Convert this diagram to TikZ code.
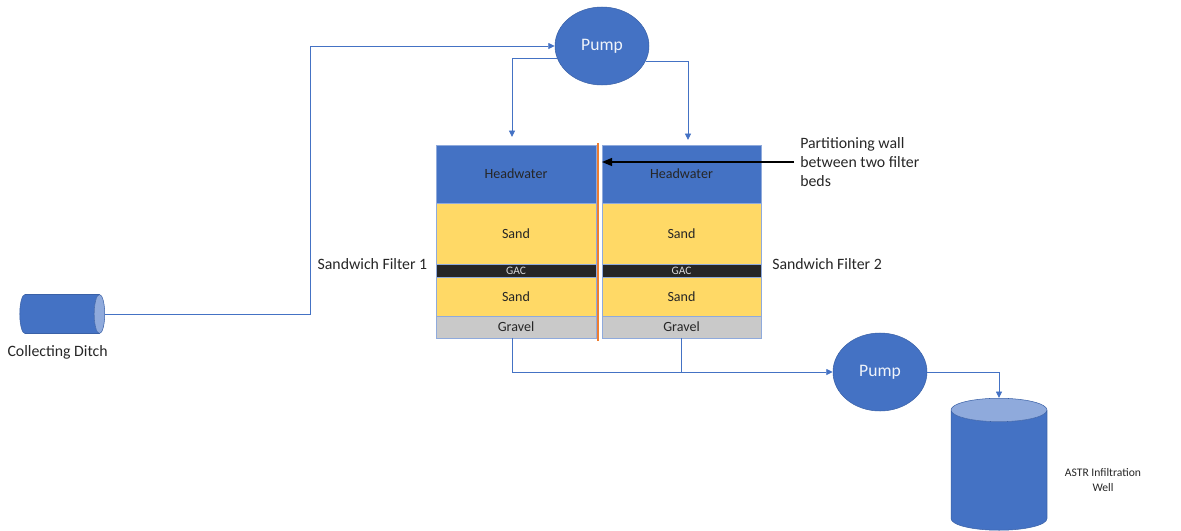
\documentclass[tikz,border=0pt]{standalone}
\usepackage{fontspec}
\setmainfont{Carlito}
\usetikzlibrary{arrows.meta,positioning,shapes.geometric}
\definecolor{water}{HTML}{4472C4}
\definecolor{cap}{HTML}{8FAADC}
\definecolor{sand}{HTML}{FFD966}
\definecolor{carbon}{HTML}{262626}
\definecolor{gravel}{HTML}{C9C9C9}
\definecolor{wallc}{HTML}{ED7D31}
\definecolor{ink}{HTML}{262626}
\tikzset{
  every picture/.style={line width=0.5pt, text=ink, font=\fontsize{9}{11}\selectfont},
  pump/.style={ellipse, fill=water, draw=water!85!black, line width=0.3pt, inner sep=0pt, minimum width=1.88cm, minimum height=1.56cm, text=white!92!water, font=\fontsize{10}{12}\selectfont},
  layer/.style={draw=cap, line width=0.4pt, inner sep=0pt, outer sep=0pt, font=\fontsize{8}{10}\selectfont},
  head/.style={layer, fill=water},
  sandl/.style={layer, fill=sand},
  gac/.style={layer, fill=carbon, text=white!85!black, font=\fontsize{6.5}{7}\selectfont},
  grav/.style={layer, fill=gravel},
  tank/.style={cylinder, draw=water!85!black, line width=0.3pt, cylinder uses custom fill, cylinder body fill=water, cylinder end fill=cap},
  pipe/.style={draw=water, line width=0.5pt, -{Triangle[length=1.3mm, width=1.2mm]}},
  callout/.style={draw=black, line width=0.7pt, -{Triangle[length=2mm, width=1.6mm]}},
  wall/.style={draw=wallc, line width=1.7pt},
  lbl/.style={font=\fontsize{9}{11}\selectfont},
}
\begin{document}
\begin{tikzpicture}[x=0.02cm, y=-0.02cm]
\useasboundingbox (0,0) rectangle (1181,531);
% the two filter beds, top to bottom
\foreach \f/\x/\w in {1/516/3.2cm, 2/681.5/3.18cm} {
  \node[head, minimum width=\w, minimum height=1.16cm] (hw\f) at (\x,174) {Headwater};
  \node[sandl, minimum width=\w, minimum height=1.22cm, below=0pt of hw\f] (sa\f) {Sand};
  \node[gac, minimum width=\w, minimum height=0.26cm, below=0pt of sa\f] (ga\f) {GAC};
  \node[sandl, minimum width=\w, minimum height=0.78cm, below=0pt of ga\f] (sb\f) {Sand};
  \node[grav, minimum width=\w, minimum height=0.44cm, below=0pt of sb\f] (gr\f) {Gravel};
}
\draw[wall] (598,143) -- (598,341);
\node[lbl, left=0.5mm of ga1.north west] (sf1) {Sandwich Filter 1};
\node[lbl, right=1mm of ga2.north east] (sf2) {Sandwich Filter 2};
\node[lbl, align=left, anchor=west] (part) at (794,162) {Partitioning wall\\between two filter\\beds};
\draw[callout] (part.west) -- (part.west -| hw2.west);
% source, pumps and well
\coordinate (ditchpos) at (105,314);
\coordinate (wellpos) at (999,398);
\begin{scope}[x=1cm, y=1cm]
\node[tank, aspect=0.9, anchor=east, minimum width=0.78cm, minimum height=1.7cm] (ditch) at (ditchpos) {};
\node[tank, aspect=2, shape border rotate=90, anchor=north, minimum width=1.92cm, minimum height=2.64cm] (well) at (wellpos) {};
\end{scope}
\node[lbl, below=1mm of ditch] (ditchlbl) {Collecting Ditch};
\node[pump] (pumpA) at (602,46) {Pump};
\node[pump] (pumpB) at (880,372) {Pump};
\node[lbl, align=center, font=\fontsize{6.6}{9}\selectfont] (astr) at (1103,480) {ASTR Infiltration\\Well};
\draw[pipe] (ditch.east) -- ++(205,0) |- (pumpA.west);
\draw[pipe] (pumpA.195) -| ([xshift=-0.08cm, yshift=0.16cm]hw1.north);
\draw[pipe] (pumpA.341) -| ([xshift=0.13cm, yshift=0.1cm]hw2.north);
\draw[pipe] ([xshift=-0.08cm]gr1.south) |- (pumpB.west);
\draw[pipe, -] (gr2.south) -- (gr2.south |- pumpB.west);
\draw[pipe] (pumpB.east) -| (well.north);
\end{tikzpicture}
\end{document}
